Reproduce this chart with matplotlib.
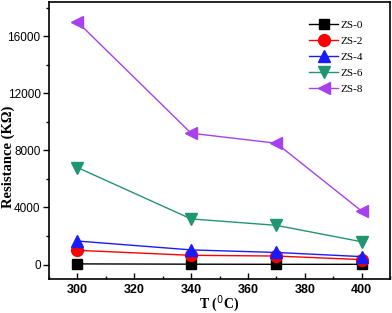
import matplotlib.pyplot as plt
from matplotlib.ticker import MultipleLocator

temps = [300, 340, 370, 400]
zs0 = [50, 30, 20, 20]
zs2 = [1000, 650, 600, 350]
zs4 = [1650, 1030, 850, 560]
zs6 = [6800, 3200, 2750, 1600]
zs8 = [17000, 9200, 8500, 3750]

series = [
    ('ZS-0', zs0, 'black', 's', 7.5),
    ('ZS-2', zs2, '#ff0000', 'o', 8.5),
    ('ZS-4', zs4, '#1a1aff', '^', 8.5),
    ('ZS-6', zs6, '#1f9672', 'v', 8.5),
    ('ZS-8', zs8, '#a840f0', '<', 8.5),
]

fig = plt.figure(figsize=(3.92, 3.13), dpi=100)
ax = fig.add_axes([0.125, 0.109, 0.87, 0.885])

for name, vals, col, mk, ms in series:
    ax.plot(temps, vals, color=col, marker=mk, markersize=ms, lw=1.0, label=name)

ax.set_xlim(290, 410)
ax.set_ylim(-1000, 18400)
ax.xaxis.set_major_locator(MultipleLocator(20))
ax.xaxis.set_minor_locator(MultipleLocator(10))
ax.yaxis.set_major_locator(MultipleLocator(4000))
ax.yaxis.set_minor_locator(MultipleLocator(2000))
ax.tick_params(axis='x', which='both', direction='in', top=False, pad=4)
ax.tick_params(axis='y', which='both', direction='out', right=False, pad=2)
ax.tick_params(which='major', length=4, width=1)
ax.tick_params(which='minor', length=2.5, width=1)

for lb in ax.get_xticklabels():
    lb.set_fontfamily('Liberation Sans')
    lb.set_fontweight('bold')
    lb.set_fontsize(9)
for lb in ax.get_yticklabels():
    lb.set_fontfamily('Liberation Sans')
    lb.set_fontsize(8.5)

for sp in ax.spines.values():
    sp.set_linewidth(1.2)

ax.set_xlabel('T ($^{0}$C)', fontfamily='Liberation Serif', fontweight='bold', fontsize=10)
ax.set_ylabel('Resistance (K\u03a9)', fontfamily='Liberation Serif', fontweight='bold', fontsize=10.5)
# anchor points: top of the x label, right edge of the rotated y label
ax.xaxis.set_label_coords(0.5, -0.05)
ax.yaxis.set_label_coords(-0.10, 0.44)

ax.legend(loc='upper right', bbox_to_anchor=(0.95, 0.97), frameon=False,
          prop={'family': 'Liberation Serif', 'size': 8},
          handlelength=2.6, labelspacing=0.55, handletextpad=0.2)

fig.savefig('out.png', dpi=100)
